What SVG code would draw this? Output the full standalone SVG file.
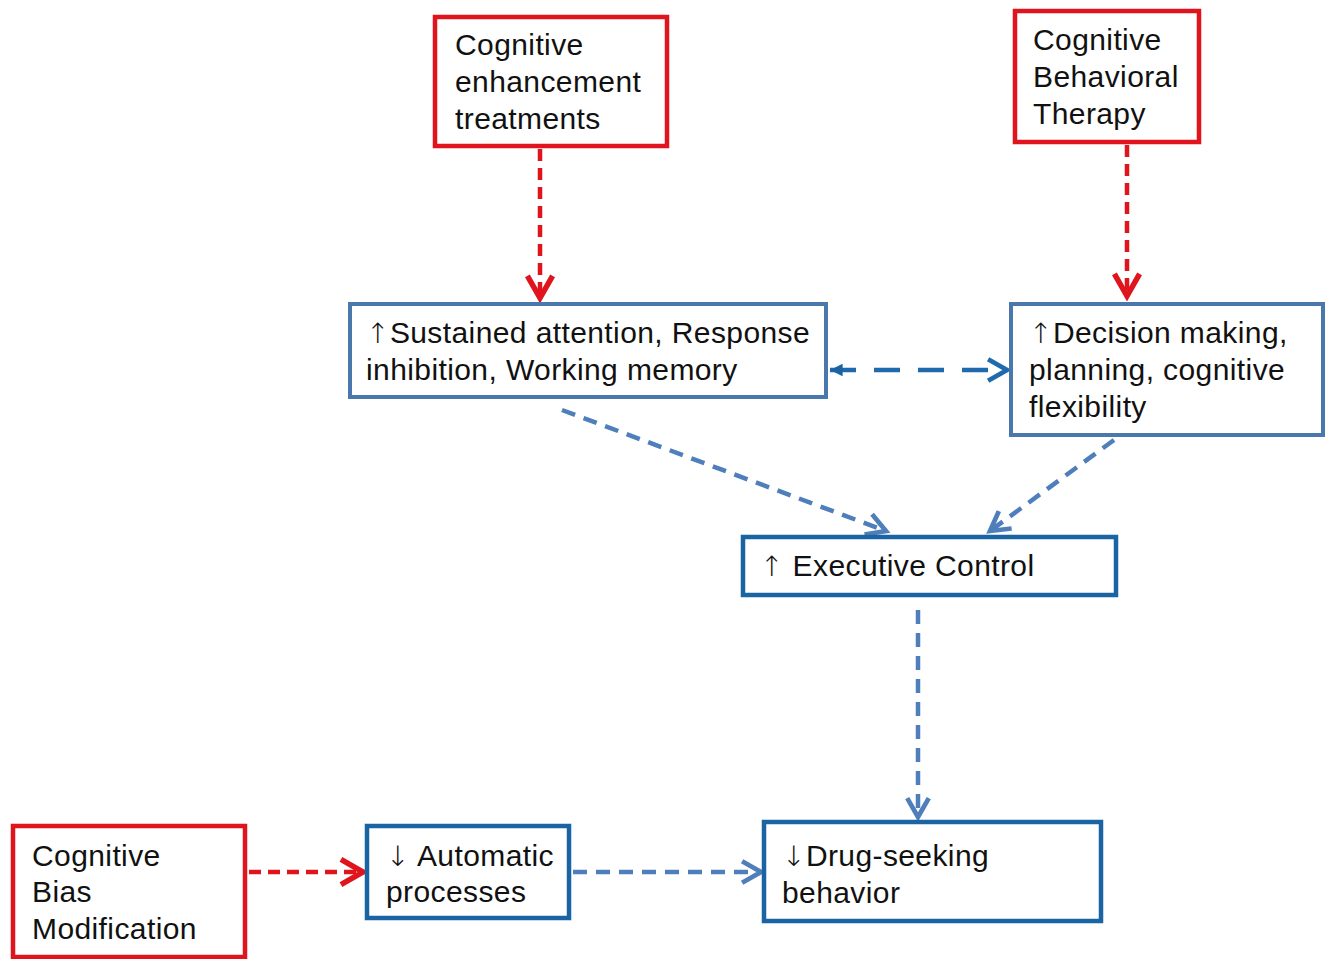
<svg xmlns="http://www.w3.org/2000/svg" width="1333" height="959" viewBox="0 0 1333 959">
<style>
.red{fill:#fff;stroke:#e0141c;stroke-width:4.5}
.blue{fill:#fff;stroke:#4a78ad;stroke-width:4}
.dblue{fill:#fff;stroke:#1b64a3;stroke-width:4.5}
text{font-family:"Liberation Sans",Arial,sans-serif;font-size:30px;fill:#111;letter-spacing:0.4px}
.ar{font-family:"DejaVu Sans",sans-serif;font-weight:300;font-size:28px}
.rc{fill:none;stroke:#e0141c;stroke-width:4.5;stroke-dasharray:12 7}
.bc{fill:none;stroke:#4f7fba;stroke-width:4.5;stroke-dasharray:14 9}
</style>
<defs>
<marker id="rh" viewBox="0 0 20 20" refX="16" refY="10" markerWidth="7" markerHeight="7" markerUnits="strokeWidth" orient="auto">
<path d="M2,2 L16,10 L2,18" fill="none" stroke="#e0141c" stroke-width="3.5"/>
</marker>
<marker id="bh" viewBox="0 0 20 20" refX="16" refY="10" markerWidth="6" markerHeight="6" markerUnits="strokeWidth" orient="auto">
<path d="M2,2 L16,10 L2,18" fill="none" stroke="#4f7fba" stroke-width="3.5"/>
</marker>
<marker id="bh2" viewBox="0 0 20 20" refX="16" refY="10" markerWidth="6" markerHeight="6" markerUnits="strokeWidth" orient="auto">
<path d="M2,2 L16,10 L2,18" fill="none" stroke="#1f6aad" stroke-width="3.5"/>
</marker>
<marker id="bf" viewBox="0 0 20 20" refX="16" refY="10" markerWidth="4" markerHeight="4" markerUnits="strokeWidth" orient="auto-start-reverse">
<path d="M2,3 L16,10 L2,17 Z" fill="#1b64a3"/>
</marker>
</defs>
<rect width="1333" height="959" fill="#fff"/>
<g id="connectors">
<line class="rc" x1="540" y1="149" x2="540" y2="298" marker-end="url(#rh)"/>
<line class="rc" x1="1127" y1="145" x2="1127" y2="296" marker-end="url(#rh)"/>
<line class="bc" x1="830" y1="370" x2="1007" y2="370" marker-start="url(#bf)" marker-end="url(#bh2)" style="stroke:#1f6aad;stroke-dasharray:26 18"/>
<line class="bc" x1="562" y1="410" x2="886" y2="531" marker-end="url(#bh)"/>
<line class="bc" x1="1114" y1="440" x2="990" y2="531" marker-end="url(#bh)"/>
<line class="bc" x1="918" y1="610" x2="918" y2="817" marker-end="url(#bh)"/>
<line class="rc" x1="249" y1="872" x2="363" y2="872" marker-end="url(#rh)"/>
<line class="bc" x1="573" y1="872" x2="761" y2="872" marker-end="url(#bh)"/>
</g>
<g id="cet">
<rect class="red" x="435" y="17" width="232" height="129"/>
<text x="455" y="55">Cognitive</text>
<text x="455" y="92">enhancement</text>
<text x="455" y="129">treatments</text>
</g>
<g id="cbt">
<rect class="red" x="1015" y="11" width="184" height="131"/>
<text x="1033" y="50">Cognitive</text>
<text x="1033" y="87">Behavioral</text>
<text x="1033" y="124">Therapy</text>
</g>
<g id="sustained">
<rect class="blue" x="350" y="304" width="476" height="93"/>
<text x="366" y="343"><tspan class="ar">↑</tspan>Sustained attention, Response</text>
<text x="366" y="380">inhibition, Working memory</text>
</g>
<g id="decision">
<rect class="blue" x="1011" y="304" width="312" height="131"/>
<text x="1029" y="343"><tspan class="ar">↑</tspan>Decision making,</text>
<text x="1029" y="380">planning, cognitive</text>
<text x="1029" y="417">flexibility</text>
</g>
<g id="executive">
<rect class="dblue" x="743" y="537" width="373" height="58"/>
<text x="760" y="576"><tspan class="ar">↑</tspan> Executive Control</text>
</g>
<g id="cbm">
<rect class="red" x="13" y="826" width="232" height="131"/>
<text x="32" y="866">Cognitive</text>
<text x="32" y="902">Bias</text>
<text x="32" y="939">Modification</text>
</g>
<g id="automatic">
<rect class="dblue" x="367" y="826" width="202" height="92"/>
<text x="386" y="866"><tspan class="ar">↓</tspan> Automatic</text>
<text x="386" y="902">processes</text>
</g>
<g id="drug">
<rect class="dblue" x="764" y="822" width="337" height="99"/>
<text x="782" y="866"><tspan class="ar">↓</tspan>Drug-seeking</text>
<text x="782" y="903">behavior</text>
</g>
</svg>
